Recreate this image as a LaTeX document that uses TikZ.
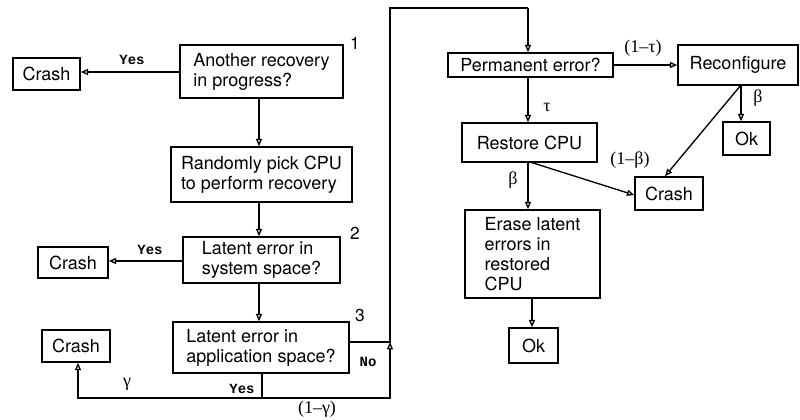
\documentclass[tikz,border=0pt]{standalone}
\usepackage{fontspec}
\setmainfont{TeX Gyre Heros}
\newfontfamily\lblserif{Liberation Serif}
\newfontfamily\lblmono{Liberation Mono}
\usetikzlibrary{arrows.meta}
\begin{document}
\begin{tikzpicture}[x=0.75pt,y=-0.75pt,
  every node/.style={inner sep=0pt},
  box/.style={draw,line width=1.15pt,align=left,font=\fontsize{13.5}{15}\selectfont},
  link/.style={line width=1pt},
  arr/.style={link,-{Triangle[open,length=5.5pt,width=4.5pt]}},
  yesno/.style={font=\lblmono\bfseries\fontsize{10.5}{12}\selectfont},
  prob/.style={font=\lblserif\fontsize{13.5}{15}\selectfont},
  num/.style={font=\fontsize{13}{15}\selectfont}]
\useasboundingbox (0,0) rectangle (800,419);

% left column
\node[box,minimum width=50.25pt,minimum height=24pt] (crashA) at (46.5,74) {Crash};
\node[box,minimum width=122.25pt,minimum height=39.75pt] (another) at (261.5,71.5) {Another recovery\\in progress?};
\node[box,minimum width=135.75pt,minimum height=41.25pt] (randomly) at (261.5,174.5) {Randomly pick CPU\\to perform recovery};
\node[box,minimum width=117.75pt,minimum height=34.5pt] (latentsys) at (261.5,260) {Latent error in\\system space?};
\node[box,minimum width=52.5pt,minimum height=23.25pt] (crashB) at (73,262.5) {Crash};
\node[box,minimum width=132pt,minimum height=38.25pt] (latentapp) at (261,347.5) {Latent error in\\application space?};
\node[box,minimum width=51pt,minimum height=24pt] (crashC) at (76,346) {Crash};

% right column
\node[box,minimum width=123.75pt,minimum height=18pt] (perm) at (530.5,65) {Permanent error?};
\node[box,minimum width=90pt,minimum height=30pt] (reconf) at (738,65) {Reconfigure};
\node[box,minimum width=35.25pt,minimum height=24.75pt] (okA) at (746.5,138.5) {Ok};
\node[box,minimum width=101.25pt,minimum height=29.25pt] (restore) at (529.5,142.5) {Restore CPU};
\node[box,minimum width=51pt,minimum height=24.75pt] (crashD) at (669,193.5) {Crash};
\node[box,minimum width=101.25pt,minimum height=66pt] (erase) at (532.5,254) {Erase latent\\errors in\\restored\\CPU};
\node[box,minimum width=36.75pt,minimum height=26.25pt] (okB) at (533.5,345.5) {Ok};

% step numbers
\node[num] (n1) at (355,43) {1};
\node[num] (n2) at (355,233) {2};
\node[num] (n3) at (360,315) {3};

% routing points
\coordinate (split) at (262,398);
\coordinate (merge) at (390,342);
\coordinate (topL) at (390,8);
\coordinate (topR) at (528,8);
\coordinate (recB) at (741,85);
\coordinate (resB) at (530,162);

% left column connectors
\draw[arr] (another.west |- 0,72) -- (crashA.east |- 0,72);
\draw[arr] (another.south -| 259,0) -- (randomly.north -| 259,0);
\draw[arr] (randomly.south -| 259,0) -- (latentsys.north -| 259,0);
\draw[arr] (latentsys.west |- 0,261) -- (crashB.east |- 0,261);
\draw[arr] (latentsys.south -| 259,0) -- (latentapp.north -| 259,0);
\draw[link] (latentapp.south -| split) -- (split);
\draw[arr] (split) -| (crashC.south -| 78,0);
\draw[arr] (split) -| (merge);
\draw[link] (latentapp.east |- merge) -- (merge) -- (topL) -- (topR);
\draw[arr] (topR) -- (perm.north -| topR);

% right column connectors
\draw[arr] (perm.east) -- (reconf.west);
\draw[arr] (perm.south -| 528,0) -- (restore.north -| 528,0);
\draw[arr] (recB) -- (okA.north -| recB);
\draw[arr] (recB) -- (crashD.north -| 665,0);
\draw[arr] (restore.south -| 528,0) -- (erase.north -| 528,0);
\draw[arr] (resB) -- (crashD.west |- 0,195);
\draw[arr] (erase.south -| 532,0) -- (okB.north -| 532,0);

% branch labels
\node[yesno] (y1) at (132,60) {Yes};
\node[yesno] (y2) at (150,250) {Yes};
\node[yesno] (y3) at (242,389) {Yes};
\node[yesno] (no) at (368,362) {No};
\node[prob] (g) at (127,384) {γ};
\node[prob] (g1) at (317,409) {(1–γ)};
\node[prob] (t1) at (643,48) {(1–τ)};
\node[prob] (t) at (547,107) {τ};
\node[prob] (b1) at (758,98) {β};
\node[prob] (b2) at (630,160) {(1–β)};
\node[prob] (b3) at (513,180) {β};
\end{tikzpicture}
\end{document}
